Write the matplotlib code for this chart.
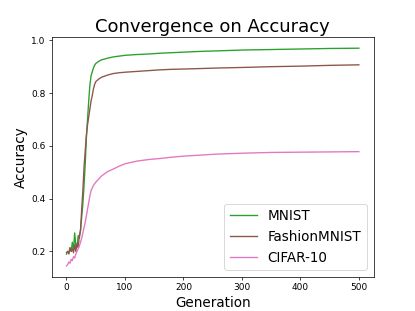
import matplotlib
matplotlib.use("Agg")
import matplotlib.pyplot as plt

gens = [0, 2, 4, 6, 8, 10, 12, 14, 16, 18, 20, 22, 24, 26, 28, 30, 32, 34, 36, 38,
        40, 42, 44, 46, 48, 50, 55, 60, 70, 80, 90, 100, 120, 140, 160, 180, 200,
        230, 260, 300, 350, 400, 450, 500]

mnist = [0.19, 0.20, 0.195, 0.21, 0.20, 0.235, 0.205, 0.27, 0.22, 0.215, 0.26, 0.25,
         0.28, 0.33, 0.38, 0.45, 0.53, 0.63, 0.70, 0.77, 0.83, 0.865, 0.88, 0.895,
         0.905, 0.912, 0.92, 0.926, 0.932, 0.937, 0.940, 0.943, 0.946, 0.948, 0.951,
         0.953, 0.955, 0.958, 0.960, 0.963, 0.965, 0.967, 0.969, 0.970]

fashion = [0.195, 0.20, 0.19, 0.215, 0.20, 0.21, 0.195, 0.225, 0.20, 0.23, 0.215,
           0.26, 0.28, 0.36, 0.43, 0.52, 0.58, 0.64, 0.68, 0.71, 0.74, 0.77, 0.79,
           0.815, 0.832, 0.843, 0.853, 0.86, 0.868, 0.874, 0.877, 0.879, 0.882,
           0.885, 0.888, 0.890, 0.891, 0.893, 0.895, 0.897, 0.900, 0.902, 0.905, 0.907]

cifar = [0.145, 0.15, 0.16, 0.155, 0.17, 0.165, 0.18, 0.175, 0.19, 0.20, 0.21, 0.22,
         0.235, 0.25, 0.27, 0.29, 0.31, 0.335, 0.36, 0.385, 0.41, 0.43, 0.44, 0.45,
         0.456, 0.462, 0.474, 0.486, 0.502, 0.512, 0.523, 0.532, 0.542, 0.548,
         0.552, 0.557, 0.561, 0.565, 0.569, 0.572, 0.575, 0.576, 0.577, 0.578]

# default-size figure rendered at low dpi
fig, ax = plt.subplots(figsize=(415 / 65, 311 / 65), dpi=65)
fig.subplots_adjust(left=0.125, right=0.9, bottom=0.11, top=0.88)

ax.plot(gens, mnist, color="tab:green", label="MNIST")
ax.plot(gens, fashion, color="tab:brown", label="FashionMNIST")
ax.plot(gens, cifar, color="tab:pink", label="CIFAR-10")

ax.set_xticks([0, 100, 200, 300, 400, 500])
ax.set_yticks([0.2, 0.4, 0.6, 0.8, 1.0])
ax.set_title("Convergence on Accuracy", fontsize=20)
ax.set_xlabel("Generation", fontsize=15)
ax.set_ylabel("Accuracy", fontsize=15)
ax.legend(loc="lower right", fontsize=15)

fig.savefig("out.png", dpi=65)
